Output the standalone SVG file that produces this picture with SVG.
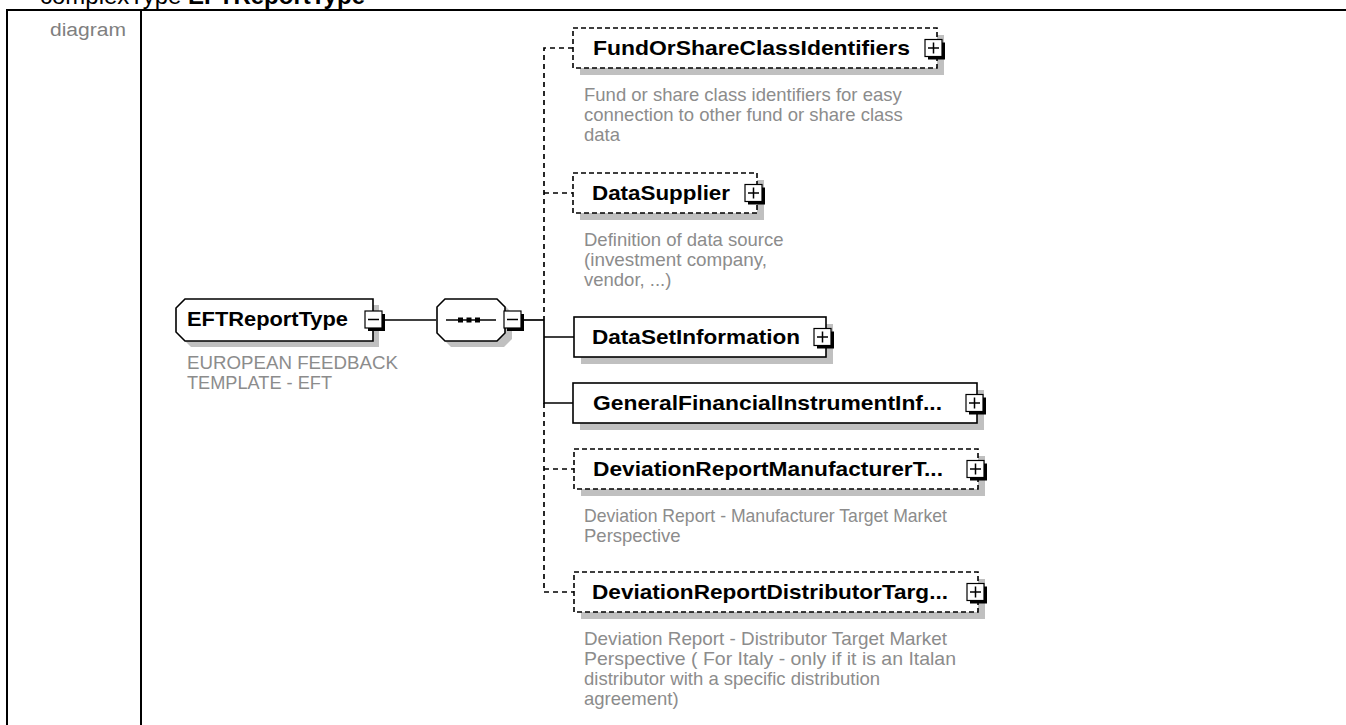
<svg xmlns="http://www.w3.org/2000/svg" width="1346" height="725" viewBox="0 0 1346 725">
<style>
.hdr{font-family:"Liberation Sans",Arial,sans-serif;font-size:24px;fill:#000}
.cap{font-family:"Liberation Sans",Arial,sans-serif;font-size:18px;fill:#808080}
.lbl{font-family:"Liberation Sans",Arial,sans-serif;font-weight:bold;font-size:21px;fill:#000}
.desc{font-family:"Liberation Sans",Arial,sans-serif;font-size:18.5px;fill:#8c8c8c}
.frame{stroke:#000;stroke-width:2;fill:none}
.box{fill:#fff;stroke:#000;stroke-width:1.6}
.opt{stroke-dasharray:5 3}
.sh{fill:#c0c0c0}
.conn{stroke:#000;stroke-width:1.7;fill:none}
.dash{stroke-dasharray:5 4}
.pb{fill:#fff;stroke:#000;stroke-width:1.2}
.pbs{fill:#000}
.sign{stroke:#000;stroke-width:1.5;fill:none}
</style>
<defs>
<g id="plus">
<rect class="pbs" x="3" y="3" width="17" height="17"/>
<rect class="pb" x="0" y="0" width="17" height="17"/>
<path class="sign" d="M3 8.5H14M8.5 3V14"/>
</g>
<g id="minus">
<rect class="pbs" x="3" y="3" width="17" height="17"/>
<rect class="pb" x="0" y="0" width="17" height="17"/>
<path class="sign" d="M3 8.5H14"/>
</g>
</defs>
<rect width="1346" height="725" fill="#fff"/>
<text class="hdr" x="40" y="4">complexType <tspan font-weight="bold">EFTReportType</tspan></text>
<g id="frame">
<path class="frame" d="M7 725V10H1346M141 10V725"/>
<text class="cap" x="126" y="36" text-anchor="end" textLength="76" lengthAdjust="spacingAndGlyphs">diagram</text>
</g>
<g id="connectors">
<path class="conn" d="M385 320H436"/>
<path class="conn" d="M524 320H544"/>
<path class="conn dash" d="M573 48H544V320"/>
<path class="conn dash" d="M544 193H573"/>
<path class="conn" d="M544 320V403H573M544 337H574"/>
<path class="conn dash" d="M544 403V592H574M544 469H574"/>
</g>
<g id="EFTReportType">
<path class="sh" d="M191 305H379V347H191L182 338V314Z"/>
<path class="box" d="M185 299H373V341H185L176 332V308Z"/>
<text class="lbl" x="187" y="326" textLength="161" lengthAdjust="spacingAndGlyphs">EFTReportType</text>
<use href="#minus" x="365" y="311"/>
<text class="desc" x="187" y="369" textLength="211" lengthAdjust="spacingAndGlyphs">EUROPEAN FEEDBACK</text>
<text class="desc" x="187" y="389" textLength="145" lengthAdjust="spacingAndGlyphs">TEMPLATE - EFT</text>
</g>
<g id="sequence">
<path class="sh" d="M451 305H504L512 313V339L504 347H451L443 339V313Z"/>
<path class="box" d="M445 299H497L505 307V333L497 341H445L437 333V307Z"/>
<path class="conn" d="M446 320H496"/>
<rect x="458" y="317.5" width="5" height="5" fill="#000"/>
<rect x="466.5" y="317.5" width="5" height="5" fill="#000"/>
<rect x="475" y="317.5" width="5" height="5" fill="#000"/>
<use href="#minus" x="504" y="311"/>
</g>
<g id="FundOrShareClassIdentifiers">
<rect class="sh" x="580" y="35" width="364" height="40"/>
<rect class="box opt" x="573" y="28" width="364" height="40"/>
<text class="lbl" x="593" y="55" textLength="317" lengthAdjust="spacingAndGlyphs">FundOrShareClassIdentifiers</text>
<use href="#plus" x="925" y="39.5"/>
<text class="desc" x="584" y="101">Fund or share class identifiers for easy</text>
<text class="desc" x="584" y="121">connection to other fund or share class</text>
<text class="desc" x="584" y="141">data</text>
</g>
<g id="DataSupplier">
<rect class="sh" x="580" y="180" width="184" height="40"/>
<rect class="box opt" x="573" y="173" width="184" height="40"/>
<text class="lbl" x="592" y="200" textLength="138" lengthAdjust="spacingAndGlyphs">DataSupplier</text>
<use href="#plus" x="745" y="184.5"/>
<text class="desc" x="584" y="246">Definition of data source</text>
<text class="desc" x="584" y="266" textLength="183" lengthAdjust="spacingAndGlyphs">(investment company,</text>
<text class="desc" x="584" y="286">vendor, ...)</text>
</g>
<g id="DataSetInformation">
<rect class="sh" x="581" y="324" width="252" height="40"/>
<rect class="box" x="574" y="317" width="252" height="40"/>
<text class="lbl" x="592" y="344" textLength="208" lengthAdjust="spacingAndGlyphs">DataSetInformation</text>
<use href="#plus" x="814" y="328.5"/>
</g>
<g id="GeneralFinancialInstrumentInformation">
<rect class="sh" x="580" y="390" width="404" height="40"/>
<rect class="box" x="573" y="383" width="404" height="40"/>
<text class="lbl" x="593" y="410" textLength="349" lengthAdjust="spacingAndGlyphs">GeneralFinancialInstrumentInf...</text>
<use href="#plus" x="966" y="394.5"/>
</g>
<g id="DeviationReportManufacturerTargetMarket">
<rect class="sh" x="581" y="456" width="404" height="40"/>
<rect class="box opt" x="574" y="449" width="404" height="40"/>
<text class="lbl" x="593" y="476" textLength="350" lengthAdjust="spacingAndGlyphs">DeviationReportManufacturerT...</text>
<use href="#plus" x="967" y="460.5"/>
<text class="desc" x="584" y="522" textLength="363" lengthAdjust="spacingAndGlyphs">Deviation Report - Manufacturer Target Market</text>
<text class="desc" x="584" y="542">Perspective</text>
</g>
<g id="DeviationReportDistributorTargetMarket">
<rect class="sh" x="581" y="579" width="404" height="40"/>
<rect class="box opt" x="574" y="572" width="404" height="40"/>
<text class="lbl" x="592" y="599" textLength="356" lengthAdjust="spacingAndGlyphs">DeviationReportDistributorTarg...</text>
<use href="#plus" x="967" y="583.5"/>
<text class="desc" x="584" y="645" textLength="363" lengthAdjust="spacingAndGlyphs">Deviation Report - Distributor Target Market</text>
<text class="desc" x="584" y="665" textLength="372" lengthAdjust="spacingAndGlyphs">Perspective ( For Italy - only if it is an Italan</text>
<text class="desc" x="584" y="685">distributor with a specific distribution</text>
<text class="desc" x="584" y="705">agreement)</text>
</g>
</svg>
